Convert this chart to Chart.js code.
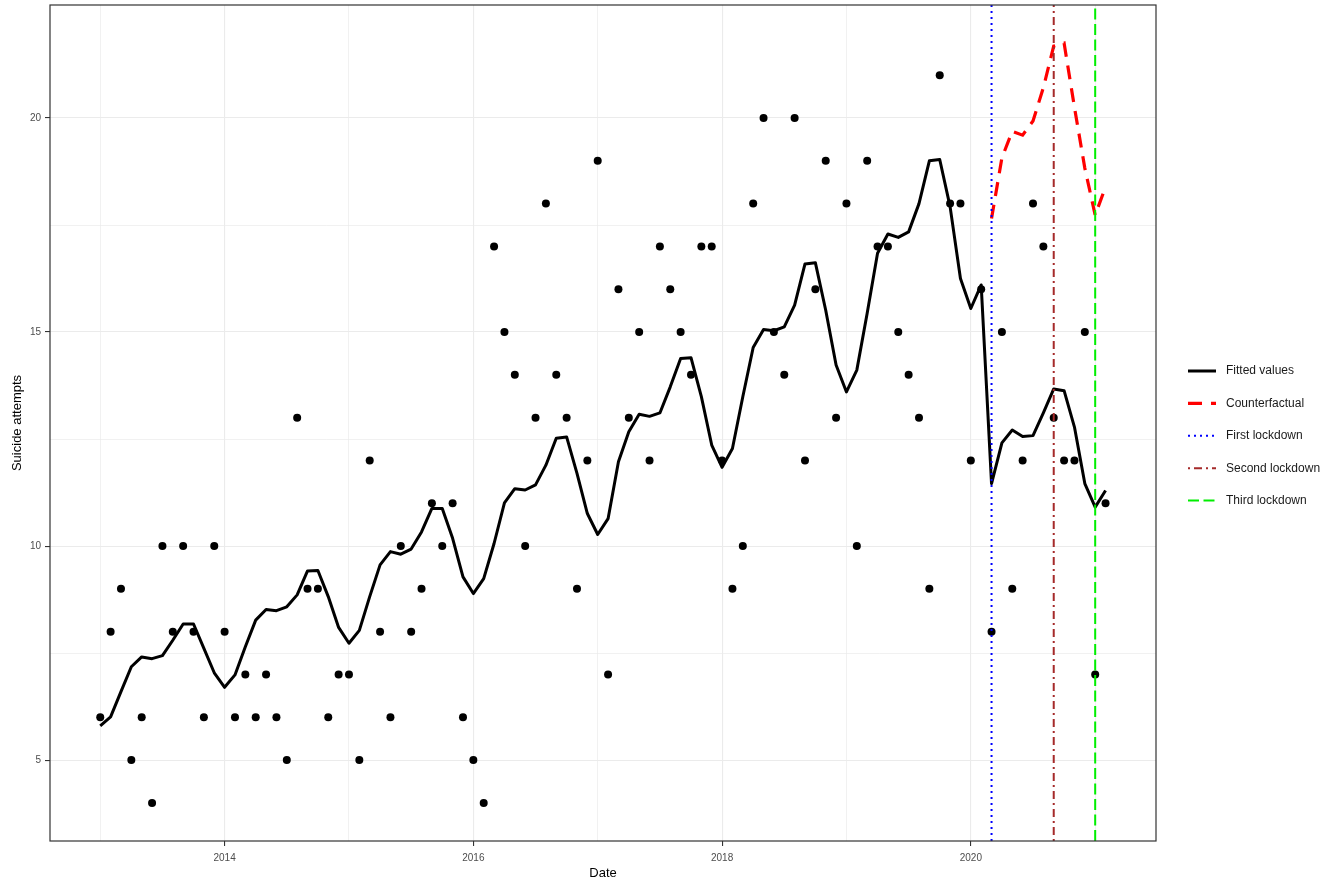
<!DOCTYPE html>
<html>
<head>
<meta charset="utf-8">
<script src="https://cdn.jsdelivr.net/npm/chart.js@4.4.1/dist/chart.umd.min.js"></script>
<style>
  html, body { margin: 0; padding: 0; background: #fff; }
  #wrap { width: 1333px; height: 881px; }
</style>
</head>
<body>
<div id="wrap"><canvas id="chart" width="1333" height="881"></canvas></div>
<script>
// monthly series, Jan 2013 .. Feb 2021
const START_YEAR = 2013;

const observed = [
    6, 8, 9, 5, 6, 4, 10, 8, 10, 8, 6, 10,
    8, 6, 7, 6, 7, 6, 5, 13, 9, 9, 6, 7,
    7, 5, 12, 8, 6, 10, 8, 9, 11, 10, 11, 6,
    5, 4, 17, 15, 14, 10, 13, 18, 14, 13, 9, 12,
    19, 7, 16, 13, 15, 12, 17, 16, 15, 14, 17, 17,
    12, 9, 10, 18, 20, 15, 14, 20, 12, 16, 19, 13,
    18, 10, 19, 17, 17, 15, 14, 13, 9, 21, 18, 18,
    12, 16, 8, 15, 9, 12, 18, 17, 13, 12, 12, 15,
    7, 11
];

const fitted = [
    5.8, 6.01, 6.6, 7.18, 7.41, 7.37, 7.44, 7.8, 8.18, 8.18, 7.61, 7.04,
    6.7, 6.99, 7.65, 8.27, 8.52, 8.49, 8.58, 8.86, 9.42, 9.43, 8.82, 8.1,
    7.73, 8.03, 8.82, 9.56, 9.87, 9.81, 9.93, 10.33, 10.88, 10.88, 10.18, 9.28,
    8.89, 9.24, 10.06, 11.01, 11.34, 11.31, 11.43, 11.89, 12.52, 12.55, 11.7, 10.76,
    10.27, 10.64, 11.97, 12.67, 13.08, 13.03, 13.11, 13.72, 14.38, 14.4, 13.49, 12.36,
    11.84, 12.28, 13.49, 14.64, 15.06, 15.03, 15.12, 15.63, 16.59, 16.62, 15.51, 14.23,
    13.6, 14.11, 15.44, 16.84, 17.29, 17.21, 17.34, 18.0, 19.0, 19.03, 17.93, 16.25,
    15.55, 16.1, 11.46, 12.41, 12.71, 12.56, 12.58, 13.11, 13.67, 13.63, 12.78, 11.46,
    10.91, 11.3
];

// counterfactual starts at Mar 2020 (month index 86)
const counterStart = 86;
const counterfactual = [17.65, 19.07, 19.69, 19.6, 19.93, 20.71, 21.68, 21.75, 20.25, 18.83, 17.73, 18.39];

const lockdownNames = ['First lockdown', 'Second lockdown', 'Third lockdown'];
const lockdownDates = [2020 + 2 / 12, 2020 + 8 / 12, 2021];

const xTicks = [2013, 2014, 2015, 2016, 2017, 2018, 2019, 2020, 2021];
const yTicks = [5, 7.5, 10, 12.5, 15, 17.5, 20];
const X_MIN = 2012.596, X_MAX = 2021.489;
const Y_MIN = 3.11, Y_MAX = 22.64;

const FONT = "'Liberation Sans', Arial, sans-serif";
const toDate = i => START_YEAR + i / 12;

const lockStyles = [
    { color: '#0000ff', width: 2, dash: [2, 4] },
    { color: '#a52a2a', width: 2, dash: [2, 4, 8, 4] },
    { color: '#00ee00', width: 2, dash: [11, 4.5] }
];

const datasets = [
    {
        label: 'Observed',
        data: observed.map((v, i) => ({ x: toDate(i), y: v })),
        backgroundColor: '#000',
        borderColor: '#000',
        pointRadius: 4,
        pointBorderWidth: 0,
        showLine: false,
        order: 6
    },
    {
        label: 'Fitted values',
        data: fitted.map((v, i) => ({ x: toDate(i), y: v })),
        borderColor: '#000',
        borderWidth: 3,
        borderJoinStyle: 'round',
        pointRadius: 0,
        showLine: true,
        legendKey: true,
        order: 5
    },
    {
        label: 'Counterfactual',
        data: counterfactual.map((v, i) => ({ x: toDate(counterStart + i), y: v })),
        borderColor: '#ff0000',
        borderWidth: 3.2,
        borderDash: [14, 9],
        pointRadius: 0,
        showLine: true,
        legendKey: true,
        order: 4
    }
];

lockdownNames.forEach((name, k) => {
    datasets.push({
        label: name,
        data: [{ x: lockdownDates[k], y: Y_MIN }, { x: lockdownDates[k], y: Y_MAX }],
        borderColor: lockStyles[k].color,
        borderWidth: lockStyles[k].width,
        borderDash: lockStyles[k].dash,
        pointRadius: 0,
        showLine: true,
        legendKey: true,
        order: 3 - k
    });
});

// panel border on top, like theme_bw
const panelBorder = {
    id: 'panelBorder',
    afterDatasetsDraw(chart) {
        const { ctx, chartArea: a } = chart;
        ctx.save();
        ctx.strokeStyle = '#333';
        ctx.lineWidth = 1.2;
        ctx.setLineDash([]);
        ctx.strokeRect(a.left, a.top, a.right - a.left, a.bottom - a.top);
        ctx.restore();
    }
};

// legend on the right with line keys
const lineLegend = {
    id: 'lineLegend',
    afterDraw(chart) {
        const ctx = chart.ctx;
        const items = chart.data.datasets.filter(d => d.legendKey);
        ctx.save();
        items.forEach((d, i) => {
            const y = 371 + i * 32.4;
            ctx.beginPath();
            ctx.strokeStyle = d.borderColor;
            ctx.lineWidth = d.borderWidth;
            ctx.setLineDash(d.borderDash || []);
            ctx.moveTo(1188, y);
            ctx.lineTo(1216, y);
            ctx.stroke();
            ctx.setLineDash([]);
            ctx.fillStyle = '#1a1a1a';
            ctx.font = '12px ' + FONT;
            ctx.textBaseline = 'middle';
            ctx.textAlign = 'left';
            ctx.fillText(d.label, 1226, y);
        });
        ctx.restore();
    }
};

new Chart(document.getElementById('chart'), {
    type: 'scatter',
    data: { datasets: datasets },
    options: {
        responsive: false,
        animation: false,
        devicePixelRatio: 1,
        layout: { padding: { top: 5, right: 177, bottom: 0, left: 0 } },
        plugins: { legend: { display: false }, tooltip: { enabled: false } },
        elements: { line: { tension: 0 } },
        scales: {
            x: {
                type: 'linear',
                min: X_MIN,
                max: X_MAX,
                afterBuildTicks: s => { s.ticks = xTicks.map(v => ({ value: v })); },
                afterFit: s => { s.height = 40; s.paddingLeft = 0; s.paddingRight = 0; },
                ticks: {
                    autoSkip: false,
                    maxRotation: 0,
                    padding: 6,
                    color: '#4d4d4d',
                    font: { family: FONT, size: 10 },
                    callback: v => (v % 2 === 0 ? String(v) : '')
                },
                grid: {
                    color: '#ebebeb',
                    lineWidth: c => (c.tick && c.tick.value % 2 === 0 ? 1.1 : 0.7),
                    tickColor: c => (c.tick && c.tick.value % 2 === 0 ? '#333' : 'rgba(0,0,0,0)'),
                    tickLength: 5,
                    tickWidth: 1.1
                },
                border: { display: false },
                title: {
                    display: true,
                    text: 'Date',
                    color: '#000',
                    font: { family: FONT, size: 13 },
                    padding: { top: 0, bottom: 0 }
                }
            },
            y: {
                type: 'linear',
                min: Y_MIN,
                max: Y_MAX,
                afterBuildTicks: s => { s.ticks = yTicks.map(v => ({ value: v })); },
                afterFit: s => { s.width = 50; s.paddingTop = 0; s.paddingBottom = 0; },
                ticks: {
                    padding: 4,
                    color: '#4d4d4d',
                    font: { family: FONT, size: 10 },
                    callback: v => (Number.isInteger(v) ? String(v) : '')
                },
                grid: {
                    color: '#ebebeb',
                    lineWidth: c => (c.tick && Number.isInteger(c.tick.value) ? 1.1 : 0.7),
                    tickColor: c => (c.tick && Number.isInteger(c.tick.value) ? '#333' : 'rgba(0,0,0,0)'),
                    tickLength: 5,
                    tickWidth: 1.1
                },
                border: { display: false },
                title: {
                    display: true,
                    text: 'Suicide attempts',
                    color: '#000',
                    font: { family: FONT, size: 13 },
                    padding: { top: 10, bottom: 0 }
                }
            }
        }
    },
    plugins: [panelBorder, lineLegend]
});
</script>
</body>
</html>
